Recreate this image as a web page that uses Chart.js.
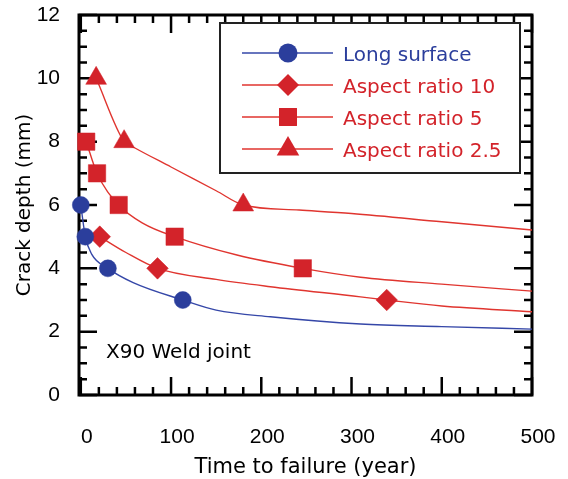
<!DOCTYPE html>
<html>
<head>
<meta charset="utf-8">
<script src="https://cdn.jsdelivr.net/npm/chart.js@4.4.0/dist/chart.umd.min.js"></script>
<style>
html, body { margin: 0; padding: 0; background: #fff; }
#wrap { width: 568px; height: 479px; }
</style>
</head>
<body>
<div id="wrap"><canvas id="crackChart" width="568" height="479"></canvas></div>
<script>
// measured points (markers)
var longX = [0, 5, 30, 113];
var longY = [6, 5, 4, 3];
var ar10X = [21, 85, 339];
var ar10Y = [5, 4, 3];
var ar5X = [6, 18, 42, 104, 246];
var ar5Y = [8, 7, 6, 5, 4];
var ar25X = [17, 48, 180];
var ar25Y = [10, 8, 6];

// fitted curves
var longCurveX = [0, 5, 12, 30, 58, 113, 150, 210, 310, 400, 500];
var longCurveY = [6, 5, 4.45, 4, 3.55, 3, 2.68, 2.47, 2.24, 2.16, 2.08];
var ar10CurveX = [21, 50, 85, 150, 210, 310, 339, 400, 500];
var ar10CurveY = [5, 4.5, 4, 3.65, 3.42, 3.1, 3, 2.81, 2.63];
var ar5CurveX = [6, 18, 42, 69, 104, 173, 246, 310, 400, 500];
var ar5CurveY = [8, 7, 6, 5.42, 5, 4.42, 4, 3.72, 3.5, 3.28];
var ar25CurveX = [17, 48, 60, 100, 150, 180, 242, 300, 400, 500];
var ar25CurveY = [10, 8, 7.8, 7.2, 6.45, 6, 5.84, 5.73, 5.47, 5.21];

var seriesNames = ["Long surface", "Aspect ratio 10", "Aspect ratio 5", "Aspect ratio 2.5"];
var xTicks = [0, 100, 200, 300, 400, 500];
var yTicks = [0, 2, 4, 6, 8, 10, 12];

var blue = "#2b3e9c";
var red = "#d3232a";
var styles = [
    { color: blue, line: "#3547a8", point: "circle", r: 8.5, legendR: 9.5 },
    { color: red, line: "#e0352f", point: "rectRot", r: 10.8, legendR: 11 },
    { color: red, line: "#e0352f", point: "rect", r: 12.3, legendR: 12.7 },
    { color: red, line: "#e0352f", point: "triangle", r: 12, legendR: 13 }
];

var tickFont = "'Liberation Sans', Arial, sans-serif";
var textFont = "'DejaVu Sans', Verdana, sans-serif";

function pts(xs, ys) {
    return xs.map(function (x, i) { return { x: x, y: ys[i] }; });
}

var markerData = [pts(longX, longY), pts(ar10X, ar10Y), pts(ar5X, ar5Y), pts(ar25X, ar25Y)];
var curveData = [pts(longCurveX, longCurveY), pts(ar10CurveX, ar10CurveY), pts(ar5CurveX, ar5CurveY), pts(ar25CurveX, ar25CurveY)];

var datasets = [];
markerData.forEach(function (d, i) {
    datasets.push({
        label: seriesNames[i],
        data: d,
        showLine: false,
        pointStyle: styles[i].point,
        pointRadius: styles[i].r,
        backgroundColor: styles[i].color,
        borderColor: styles[i].color,
        pointBorderWidth: 0.5,
        clip: false
    });
});
curveData.forEach(function (d, i) {
    datasets.push({
        label: seriesNames[i] + " fit",
        data: d,
        showLine: true,
        pointRadius: 0,
        borderColor: styles[i].line,
        borderWidth: 1.4,
        cubicInterpolationMode: "monotone",
        fill: false
    });
});

function drawMarker(ctx, style, r, x, y) {
    if (Chart.helpers && Chart.helpers.drawPoint) {
        Chart.helpers.drawPoint(ctx, { pointStyle: style, radius: r, rotation: 0, borderWidth: 0 }, x, y);
        return;
    }
    ctx.beginPath();
    ctx.arc(x, y, r, 0, Math.PI * 2);
    ctx.fill();
}

function noPad(s) {
    s.paddingTop = 0; s.paddingBottom = 0; s.paddingLeft = 0; s.paddingRight = 0;
}

// frame with inward ticks on all four sides
var frameTicks = {
    id: "frameTicks",
    beforeDatasetsDraw: function (chart) {
        var ctx = chart.ctx, a = chart.chartArea;
        var xs = chart.scales.x, ys = chart.scales.y;
        ctx.save();
        ctx.strokeStyle = "#000";
        ctx.lineWidth = 2.5;
        ctx.beginPath();
        for (var v = 0; v <= 500; v += 20) {
            var px = xs.getPixelForValue(v);
            var len = v % 100 === 0 ? 18 : 8;
            ctx.moveTo(px, a.bottom); ctx.lineTo(px, a.bottom - len);
            ctx.moveTo(px, a.top); ctx.lineTo(px, a.top + len);
        }
        for (var w = 0; w <= 12; w += 0.5) {
            var py = ys.getPixelForValue(w);
            var l2 = w % 2 === 0 ? 18 : 8;
            ctx.moveTo(a.left, py); ctx.lineTo(a.left + l2, py);
            ctx.moveTo(a.right, py); ctx.lineTo(a.right - l2, py);
        }
        ctx.stroke();
        ctx.lineWidth = 3;
        ctx.strokeRect(a.left, a.top, a.right - a.left, a.bottom - a.top);
        ctx.restore();
    },
    afterDraw: function (chart) {
        var ctx = chart.ctx;
        ctx.save();
        // note text
        ctx.fillStyle = "#000";
        ctx.font = "20px " + textFont;
        ctx.textBaseline = "alphabetic";
        ctx.fillText("X90 Weld joint", 106, 358);
        // legend box
        ctx.lineWidth = 2;
        ctx.strokeStyle = "#222";
        ctx.fillStyle = "#fff";
        ctx.fillRect(220, 23, 300, 150);
        ctx.strokeRect(220, 23, 300, 150);
        seriesNames.forEach(function (name, i) {
            var y = 53 + 32 * i;
            var s = styles[i];
            ctx.strokeStyle = s.line;
            ctx.lineWidth = 1.4;
            ctx.beginPath();
            ctx.moveTo(242, y); ctx.lineTo(333, y);
            ctx.stroke();
            ctx.fillStyle = s.color;
            ctx.strokeStyle = s.color;
            drawMarker(ctx, s.point, s.legendR, 288, y);
            ctx.fillStyle = s.color;
            ctx.fillText(name, 343, y + 8);
        });
        ctx.restore();
    }
};

new Chart("crackChart", {
    type: "scatter",
    data: { datasets: datasets },
    plugins: [frameTicks],
    options: {
        responsive: false,
        animation: false,
        events: [],
        layout: { padding: { left: 0, top: 15, right: 36, bottom: 0 } },
        plugins: {
            legend: { display: false },
            tooltip: { enabled: false }
        },
        scales: {
            x: {
                type: "linear",
                min: -2,
                max: 500,
                grid: { display: false, drawTicks: false },
                border: { display: false },
                afterBuildTicks: function (s) { s.ticks = xTicks.map(function (v) { return { value: v }; }); },
                afterFit: function (s) { s.height = 84; noPad(s); },
                ticks: {
                    padding: 30,
                    labelOffset: 6,
                    color: "#000",
                    font: { family: tickFont, size: 21 }
                },
                title: {
                    display: true,
                    text: "Time to failure (year)",
                    color: "#000",
                    padding: { top: 0, bottom: 0.5 },
                    font: { family: textFont, size: 21, lineHeight: 1 }
                }
            },
            y: {
                type: "linear",
                min: 0,
                max: 12,
                grid: { display: false, drawTicks: false },
                border: { display: false },
                afterBuildTicks: function (s) { s.ticks = yTicks.map(function (v) { return { value: v }; }); },
                afterFit: function (s) { s.width = 79; noPad(s); },
                ticks: {
                    padding: 19,
                    color: "#000",
                    font: { family: tickFont, size: 21 }
                },
                title: {
                    display: true,
                    text: "Crack depth (mm)",
                    color: "#000",
                    padding: { top: 14.5, bottom: 0 },
                    font: { family: textFont, size: 20, lineHeight: 1 }
                }
            }
        }
    }
});
</script>
</body>
</html>
